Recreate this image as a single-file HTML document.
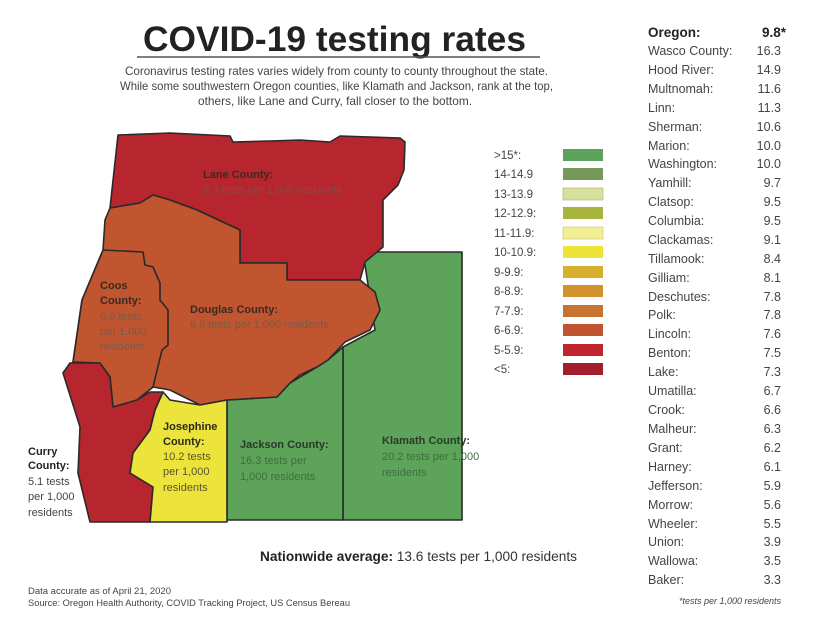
<!DOCTYPE html>
<html><head><meta charset="utf-8"><style>
html,body{margin:0;padding:0;background:#fff;width:815px;height:630px;overflow:hidden}
svg{display:block}
text{font-family:"Liberation Sans",sans-serif}
</style></head><body>
<svg width="815" height="630" viewBox="0 0 815 630" xmlns="http://www.w3.org/2000/svg">
<rect width="815" height="630" fill="#fff"/>
<!-- Title -->
<text x="143" y="51" font-size="35" font-weight="bold" fill="#222" textLength="383" lengthAdjust="spacingAndGlyphs">COVID-19 testing rates</text>
<line x1="137" y1="57" x2="540" y2="57" stroke="#555" stroke-width="1.5"/>
<g font-size="12" fill="#444">
<text x="125" y="75" textLength="423" lengthAdjust="spacingAndGlyphs">Coronavirus testing rates varies widely from county to county throughout the state.</text>
<text x="120" y="90" textLength="433" lengthAdjust="spacingAndGlyphs">While some southwestern Oregon counties, like Klamath and Jackson, rank at the top,</text>
<text x="198" y="105" textLength="274" lengthAdjust="spacingAndGlyphs">others, like Lane and Curry, fall closer to the bottom.</text>
</g>
<!-- Map -->
<g stroke="#2a2a2a" stroke-width="1.6" stroke-linejoin="round">
<polygon fill="#5ea35a" points="363,252 462,252 462,520 343,520 343,347 375,330"/>
<polygon fill="#5ea35a" points="227,400 277,397 290,383 317,367 328,360 343,347 343,520 227,520"/>
<polygon fill="#b7252f" points="118,135 170,133 230,136 233,142 270,141 300,140 330,142 340,136 400,138 405,142 404,170 398,185 383,200 383,247 365,262 360,280 287,280 287,263 240,263 240,230 197,210 170,200 153,195 140,203 110,208"/>
<polygon fill="#c0552f" points="110,208 140,203 153,195 170,200 197,210 240,230 240,263 287,263 287,280 360,280 375,292 380,310 370,330 345,342 328,360 317,367 300,375 290,383 277,397 227,400 200,405 170,390 153,387 137,400 115,410 113,407 110,377 100,363 73,362 82,300 103,250 105,220"/>
<polygon fill="#c0552f" points="103,250 143,252 145,265 153,267 160,283 160,300 168,310 168,345 162,350 153,387 137,400 115,410 113,407 110,377 100,363 73,362 82,300"/>
<polygon fill="#b7252f" points="70,363 100,363 110,377 113,407 137,400 150,392 163,392 155,410 150,430 133,453 130,473 153,487 150,522 90,522 78,473 80,427 63,373"/>
<polygon fill="#ece33b" points="163,392 170,400 200,405 227,400 227,522 150,522 153,487 130,473 133,453 150,430 155,410"/>
</g>
<g font-size="11" font-weight="bold" fill="#3a2a22">
<text x="203" y="178">Lane County:</text>
<text x="100" y="289">Coos</text>
<text x="100" y="304">County:</text>
<text x="190" y="313">Douglas County:</text>
<text x="163" y="430" fill="#2a2a1a">Josephine</text>
<text x="163" y="445" fill="#2a2a1a">County:</text>
<text x="240" y="448" fill="#2a3a2a">Jackson County:</text>
<text x="382" y="444" fill="#2a3a2a">Klamath County:</text>
<text x="28" y="455" fill="#222">Curry</text>
<text x="28" y="469" fill="#222">County:</text>
</g>
<g font-size="11" fill="#7a5a4a">
<text x="203" y="193" fill="#8a4a44">3.3 tests per 1,000 residents</text>
<text x="100" y="320">6.9 tests</text>
<text x="100" y="335">per 1,000</text>
<text x="100" y="350">residents</text>
<text x="190" y="328">6.6 tests per 1,000 residents</text>
<text x="163" y="460" fill="#5a5530">10.2 tests</text>
<text x="163" y="475" fill="#5a5530">per 1,000</text>
<text x="163" y="491" fill="#5a5530">residents</text>
<text x="240" y="464" fill="#3e6e3e">16.3 tests per</text>
<text x="240" y="480" fill="#3e6e3e">1,000 residents</text>
<text x="382" y="460" fill="#3e6e3e">20.2 tests per 1,000</text>
<text x="382" y="476" fill="#3e6e3e">residents</text>
<text x="28" y="485" fill="#444">5.1 tests</text>
<text x="28" y="500" fill="#444">per 1,000</text>
<text x="28" y="516" fill="#444">residents</text>
</g>
<!-- Legend -->
<g font-size="11.5" fill="#444">
<text x="494" y="159">&gt;15*:</text><rect x="563" y="149" width="40" height="12" fill="#5ea35a"/>
<text x="494" y="178">14-14.9</text><rect x="563" y="168" width="40" height="12" fill="#76985a"/>
<text x="494" y="198">13-13.9</text><rect x="563" y="188" width="40" height="12" fill="#d6e09c" stroke="#aab070" stroke-width="0.6"/>
<text x="494" y="217">12-12.9:</text><rect x="563" y="207" width="40" height="12" fill="#a8b43c"/>
<text x="494" y="237">11-11.9:</text><rect x="563" y="227" width="40" height="12" fill="#f2ee96" stroke="#c8c070" stroke-width="0.6"/>
<text x="494" y="256">10-10.9:</text><rect x="563" y="246" width="40" height="12" fill="#ece33b"/>
<text x="494" y="276">9-9.9:</text><rect x="563" y="266" width="40" height="12" fill="#d6b02e"/>
<text x="494" y="295">8-8.9:</text><rect x="563" y="285" width="40" height="12" fill="#d3922e"/>
<text x="494" y="315">7-7.9:</text><rect x="563" y="305" width="40" height="12" fill="#c8732f"/>
<text x="494" y="334">6-6.9:</text><rect x="563" y="324" width="40" height="12" fill="#c0552f"/>
<text x="494" y="354">5-5.9:</text><rect x="563" y="344" width="40" height="12" fill="#c0242c"/>
<text x="494" y="373">&lt;5:</text><rect x="563" y="363" width="40" height="12" fill="#a11f2c"/>
</g>
<!-- Nationwide -->
<text x="260" y="561" font-size="14" fill="#333" textLength="317" lengthAdjust="spacingAndGlyphs"><tspan font-weight="bold" fill="#222">Nationwide average:</tspan> 13.6 tests per 1,000 residents</text>
<g font-size="9" fill="#444">
<text x="28" y="594" textLength="143" lengthAdjust="spacingAndGlyphs">Data accurate as of April 21, 2020</text>
<text x="28" y="606" textLength="322" lengthAdjust="spacingAndGlyphs">Source: Oregon Health Authority, COVID Tracking Project, US Census Bereau</text>
</g>
<text x="781" y="604" font-size="9" font-style="italic" fill="#444" text-anchor="end">*tests per 1,000 residents</text>
<!-- Right list -->
<text x="648" y="37" font-size="13.5" font-weight="bold" fill="#222">Oregon:</text>
<text x="786" y="37" font-size="13.5" font-weight="bold" fill="#222" text-anchor="end">9.8*</text>
<g font-size="12.5" fill="#444">
<text x="648" y="55">Wasco County:</text><text x="781" y="55" text-anchor="end">16.3</text>
<text x="648" y="74">Hood River:</text><text x="781" y="74" text-anchor="end">14.9</text>
<text x="648" y="93">Multnomah:</text><text x="781" y="93" text-anchor="end">11.6</text>
<text x="648" y="112">Linn:</text><text x="781" y="112" text-anchor="end">11.3</text>
<text x="648" y="131">Sherman:</text><text x="781" y="131" text-anchor="end">10.6</text>
<text x="648" y="150">Marion:</text><text x="781" y="150" text-anchor="end">10.0</text>
<text x="648" y="168">Washington:</text><text x="781" y="168" text-anchor="end">10.0</text>
<text x="648" y="187">Yamhill:</text><text x="781" y="187" text-anchor="end">9.7</text>
<text x="648" y="206">Clatsop:</text><text x="781" y="206" text-anchor="end">9.5</text>
<text x="648" y="225">Columbia:</text><text x="781" y="225" text-anchor="end">9.5</text>
<text x="648" y="244">Clackamas:</text><text x="781" y="244" text-anchor="end">9.1</text>
<text x="648" y="263">Tillamook:</text><text x="781" y="263" text-anchor="end">8.4</text>
<text x="648" y="282">Gilliam:</text><text x="781" y="282" text-anchor="end">8.1</text>
<text x="648" y="301">Deschutes:</text><text x="781" y="301" text-anchor="end">7.8</text>
<text x="648" y="319">Polk:</text><text x="781" y="319" text-anchor="end">7.8</text>
<text x="648" y="338">Lincoln:</text><text x="781" y="338" text-anchor="end">7.6</text>
<text x="648" y="357">Benton:</text><text x="781" y="357" text-anchor="end">7.5</text>
<text x="648" y="376">Lake:</text><text x="781" y="376" text-anchor="end">7.3</text>
<text x="648" y="395">Umatilla:</text><text x="781" y="395" text-anchor="end">6.7</text>
<text x="648" y="414">Crook:</text><text x="781" y="414" text-anchor="end">6.6</text>
<text x="648" y="433">Malheur:</text><text x="781" y="433" text-anchor="end">6.3</text>
<text x="648" y="452">Grant:</text><text x="781" y="452" text-anchor="end">6.2</text>
<text x="648" y="471">Harney:</text><text x="781" y="471" text-anchor="end">6.1</text>
<text x="648" y="490">Jefferson:</text><text x="781" y="490" text-anchor="end">5.9</text>
<text x="648" y="509">Morrow:</text><text x="781" y="509" text-anchor="end">5.6</text>
<text x="648" y="528">Wheeler:</text><text x="781" y="528" text-anchor="end">5.5</text>
<text x="648" y="546">Union:</text><text x="781" y="546" text-anchor="end">3.9</text>
<text x="648" y="565">Wallowa:</text><text x="781" y="565" text-anchor="end">3.5</text>
<text x="648" y="584">Baker:</text><text x="781" y="584" text-anchor="end">3.3</text>
</g>
</svg>
</body></html>
